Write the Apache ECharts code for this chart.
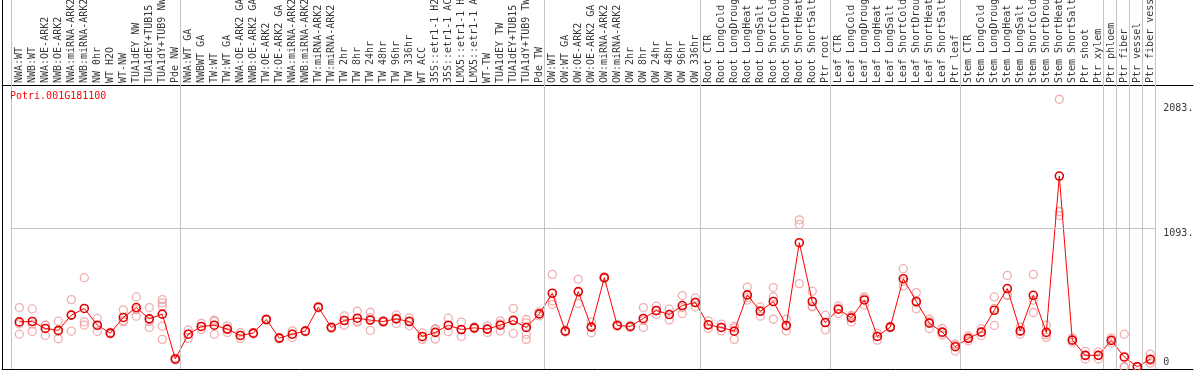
<!DOCTYPE html>
<html>
<head>
<meta charset="utf-8">
<script src="https://cdn.jsdelivr.net/npm/echarts@6/dist/echarts.min.js"></script>
<style>
html,body{margin:0;padding:0;background:#fff;}
#chart{width:1194px;height:370px;}
</style>
</head>
<body>
<div id="chart"></div>
<script>
// ---------------- data ----------------
const geneName = 'Potri.001G181100';

const categories = [
  'NWA:WT','NWB:WT','NWA:OE-ARK2','NWB:OE-ARK2','NWA:miRNA-ARK2','NWB:miRNA-ARK2','NW 0hr','WT H2O','WT-NW','TUA1dEY NW','TUA1dEY+TUB15 NW','TUA1dY+TUB9 NW','Pde NW',
  'NWA:WT GA','NWBWT GA','TW:WT','TW:WT GA','NWA:OE-ARK2 GA','NWB:OE-ARK2 GA','TW:OE-ARK2','TW:OE-ARK2 GA','NWA:miRNA-ARK2','NWB:miRNA-ARK2','TW:miRNA-ARK2','TW:miRNA-ARK2','TW 2hr','TW 8hr','TW 24hr','TW 48hr','TW 96hr','TW 336hr','WT ACC','35S::etr1-1 H2O','35S::etr1-1 ACC','LMX5::etr1-1 H2O','LMX5::etr1-1 ACC','WT-TW','TUA1dEY TW','TUA1dEY+TUB15 TW','TUA1dY+TUB9 TW','Pde TW',
  'OW:WT','OW:WT GA','OW:OE-ARK2','OW:OE-ARK2 GA','OW:miRNA-ARK2','OW:miRNA-ARK2','OW 2hr','OW 8hr','OW 24hr','OW 48hr','OW 96hr','OW 336hr',
  'Root CTR','Root LongCold','Root LongDrought','Root LongHeat','Root LongSalt','Root ShortCold','Root ShortDrought','Root ShortHeat','Root ShortSalt','Ptr root',
  'Leaf CTR','Leaf LongCold','Leaf LongDrought','Leaf LongHeat','Leaf LongSalt','Leaf ShortCold','Leaf ShortDrought','Leaf ShortHeat','Leaf ShortSalt','Ptr leaf',
  'Stem CTR','Stem LongCold','Stem LongDrought','Stem LongHeat','Stem LongSalt','Stem ShortCold','Stem ShortDrought','Stem ShortHeat','Stem ShortSalt','Ptr shoot','Ptr xylem',
  'Ptr phloem','Ptr fiber','Ptr vessel','Ptr fiber vessel'
];

// number of categories in each panel (separated by grey lines)
const groupSizes = [13, 28, 12, 10, 10, 11, 1, 1, 1, 1];

// mean expression per category
const meanValues = [
  356,359,304,289,409,462,330,267,391,469,380,417,63,
  259,320,330,299,249,267,375,228,259,283,472,312,367,385,370,359,380,359,241,273,330,296,309,299,330,367,312,419,
  582,283,595,315,705,328,320,383,446,414,485,509,
  333,312,283,569,440,517,328,981,517,351,
  456,388,529,241,315,697,517,346,275,160,
  226,275,448,619,285,566,273,1507,212,92,92,
  210,79,2,61
];

// replicate values per category
const replicateValues = [
  [469,259,340],[458,281,338],[330,330,249],[362,223,282],[532,283,412],[705,356,330],[383,281,326],[267,260,275],[451,356,366],[553,401,453],[469,312,359],[532,506,480,322,218],[55,70,63],
  [226,259,292],[296,320,344],[370,259,361],[273,299,325],[226,249,272],[267,260,274],[375,370,380],[228,222,234],[285,259,233],[283,278,288],[472,465,479],[312,305,319],[403,330,368],[440,362,353],[432,289,389],[359,352,366],[411,344,385],[388,325,364],[270,218,235],[296,220,303],[385,278,327],[354,241,293],[309,302,316],[273,299,325],[364,285,341],[462,265,374],[375,348,312,257,218],[435,419,403],
  [731,521,493],[283,276,290],[692,501,592],[356,270,319],[705,698,712],[328,321,335],[320,313,327],[469,312,368],[480,414,444],[456,372,414],[564,422,469],[545,509,473],
  [364,304,331],[338,285,313],[322,218,309],[631,527,549],[474,401,445],[627,553,377],[377,285,322],[1161,1124,658],[598,474,479],[409,293,351],
  [482,422,464],[407,356,401],[553,488,546],[212,245,266],[315,308,322],[776,639,676],[587,458,506],[377,304,357],[304,252,269],[126,173,181],
  [207,244,227],[301,246,278],[553,328,463],[723,564,570],[317,259,279],[731,527,430],[330,234,255],[2113,1227,1195],[230,194,212],[123,63,90],[120,63,93],
  [230,190,210],[259,0,0],[2,0,4],[102,31,50]
];

// right-hand axis tick values and their labels
const yTickValues = [0, 1093, 2083];
const yTickLabels = ['0', '1093.', '2083.'];
const gridLineValue = 1093;

// ---------------- layout ----------------
const FONT = 'DejaVu Sans Mono';
const X_MIN = -1.3308, X_MAX = 90.2846;
const Y_MIN = -15.8, Y_MAX = 2225.5;

const separators = [];
let start = 0;
separators.push(start - 0.6);
groupSizes.forEach(n => { start += n; separators.push(start - 0.6); });

const meanData = meanValues.map((v, i) => [i, v]);
const repData = [];
replicateValues.forEach((arr, i) => arr.forEach(v => repData.push([i, v])));
const labelData = categories.map((c, i) => [i, 2]);
const tickData = yTickValues.map((v, k) => ({
  value: [categories.length, v],
  label: { verticalAlign: v === 0 ? 'bottom' : 'top' }
}));

const greyLine = { color: '#c4c4c4', width: 1, type: 'solid' };
const vLines = separators.map(x => ({ xAxis: x }));

const axisCommon = {
  type: 'value',
  axisTick: { show: false },
  axisLabel: { show: false },
  splitLine: { show: false }
};

const chart = echarts.init(document.getElementById('chart'), null, { renderer: 'canvas' });
chart.setOption({
  animation: false,
  backgroundColor: '#ffffff',
  title: {
    text: geneName, left: 10, top: 91, padding: 0,
    textStyle: { color: '#ff0000', fontFamily: FONT, fontSize: 10, fontWeight: 'normal' }
  },
  grid: [
    { left: 2, right: 1, top: 85, bottom: 1 },
    { left: 2, right: 1, top: 0, height: 85 }
  ],
  xAxis: [
    Object.assign({}, axisCommon, { gridIndex: 0, min: X_MIN, max: X_MAX,
      axisLine: { show: true, onZero: false, lineStyle: { color: '#000', width: 1 } } }),
    Object.assign({}, axisCommon, { gridIndex: 1, min: X_MIN, max: X_MAX,
      axisLine: { show: true, onZero: false, lineStyle: { color: '#000', width: 1 } } })
  ],
  yAxis: [
    Object.assign({}, axisCommon, { gridIndex: 0, min: Y_MIN, max: Y_MAX,
      axisLine: { show: true, onZero: false, lineStyle: { color: '#000', width: 1 } } }),
    Object.assign({}, axisCommon, { gridIndex: 1, min: 0, max: 85,
      axisLine: { show: true, onZero: false, lineStyle: { color: '#000', width: 1 } } })
  ],
  series: [
    {
      type: 'scatter', xAxisIndex: 0, yAxisIndex: 0, data: [], z: 0, silent: true,
      markLine: {
        silent: true, symbol: ['none', 'none'], label: { show: false }, animation: false,
        lineStyle: greyLine,
        data: vLines.concat([[
          { coord: [separators[0], gridLineValue] },
          { coord: [separators[separators.length - 1], gridLineValue] }
        ]])
      }
    },
    {
      type: 'scatter', xAxisIndex: 1, yAxisIndex: 1, data: labelData, symbolSize: 0, z: 1, silent: true,
      label: {
        show: true, position: [0, 0], rotate: 90, align: 'left', verticalAlign: 'middle',
        fontFamily: FONT, fontSize: 10, color: '#000',
        formatter: p => categories[p.dataIndex]
      },
      markLine: {
        silent: true, symbol: ['none', 'none'], label: { show: false }, animation: false,
        lineStyle: greyLine, data: vLines
      }
    },
    {
      type: 'scatter', xAxisIndex: 0, yAxisIndex: 0, data: repData, z: 2, silent: true,
      symbol: 'circle', symbolSize: 8,
      itemStyle: { color: 'rgba(0,0,0,0)', borderColor: '#ee9a9a', borderWidth: 1.3 }
    },
    {
      type: 'line', xAxisIndex: 0, yAxisIndex: 0, data: meanData, z: 3, silent: true,
      symbol: 'circle', symbolSize: 8, showAllSymbol: true,
      lineStyle: { color: '#ff0000', width: 1 },
      itemStyle: { color: 'rgba(0,0,0,0)', borderColor: '#e00000', borderWidth: 1.6 }
    },
    {
      type: 'scatter', xAxisIndex: 0, yAxisIndex: 0, data: tickData, symbolSize: 0, z: 4, silent: true,
      label: {
        show: true, position: 'right', distance: 0, align: 'left',
        fontFamily: FONT, fontSize: 10, color: '#000',
        formatter: p => yTickLabels[p.dataIndex]
      }
    }
  ]
});
</script>
</body>
</html>
